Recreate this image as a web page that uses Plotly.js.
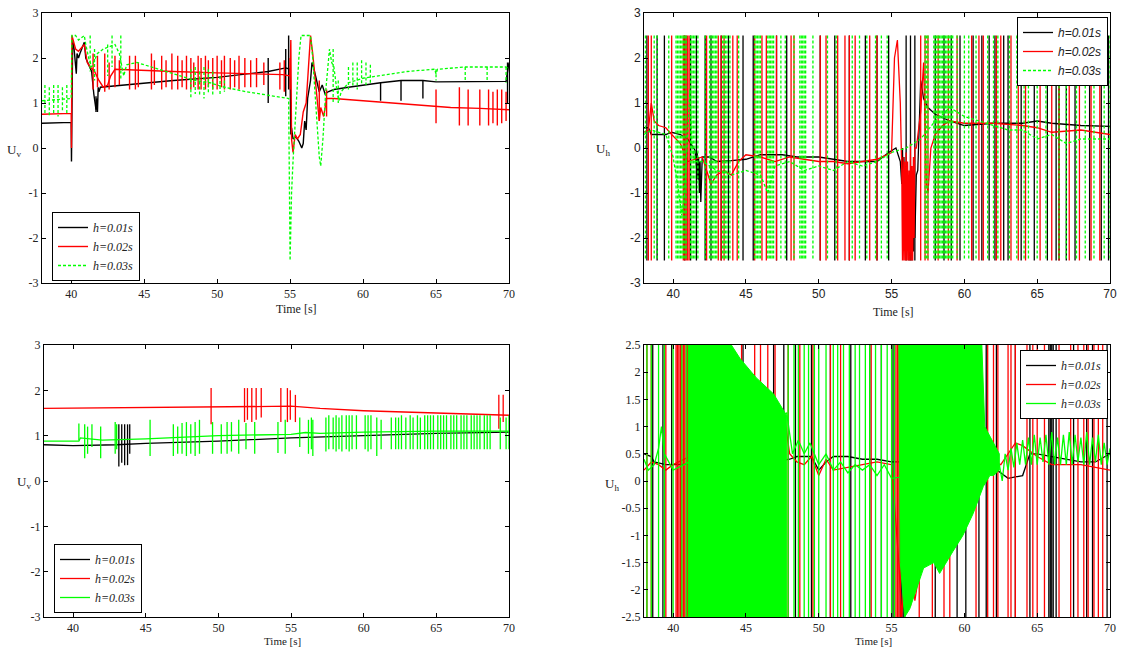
<!DOCTYPE html>
<html><head><meta charset="utf-8">
<script src="https://cdn.plot.ly/plotly-3.0.1.min.js"></script>
<style>html,body{margin:0;padding:0;background:#fff}#c{width:1126px;height:648px}</style>
</head><body><div id="c"></div>
<script>
// ---------------- DATA ----------------
const seriesNames = ['h=0.01s', 'h=0.02s', 'h=0.03s'];
const xTicks = [40, 45, 50, 55, 60, 65, 70];
const yTicksA = [-3, -2, -1, 0, 1, 2, 3];
const yTicksB = [-2.5, -2, -1.5, -1, -0.5, 0, 0.5, 1, 1.5, 2, 2.5];
const SAT = 2.5; // saturation level of the U_h signals

// Panel 1 (top-left) U_v : baseline points [t, value] and spikes [t, high, low]
const p1BlackBase = [[38,0.55],[39.9,0.57],[40.0,0.57],[40.02,-0.3],[40.05,1.5],[40.1,2.4],[40.2,2.2],[40.35,1.65],[40.4,2.1],[40.5,2.0],[40.6,2.1],[40.9,2.35],[41.0,2.0],[41.2,1.85],[41.4,1.7],[41.55,1.2],[41.65,1.0],[41.7,0.85],[41.75,1.1],[41.8,0.8],[41.85,1.35],[41.9,1.25],[42.0,1.35],[43,1.38],[45,1.45],[47,1.5],[50,1.57],[52,1.65],[53.5,1.7],[54.7,1.78],[55.0,1.75],[55.05,0.3],[55.1,0.45],[55.2,0.2],[55.4,0.25],[55.6,0.15],[55.8,0.0],[55.9,0.1],[56.0,0.6],[56.1,0.4],[56.2,1.1],[56.4,1.5],[56.5,1.9],[56.6,1.8],[56.8,1.5],[57.0,1.25],[57.2,1.4],[57.4,1.2],[57.6,1.25],[58,1.3],[59,1.35],[60,1.4],[61.2,1.45],[62.6,1.5],[64.1,1.5],[65,1.47],[67,1.48],[69.8,1.48],[70,1.9]];
const p1BlackSpikes = [[41.7,1.15,0.8],[53.5,2.0,1.0],[54.7,2.2,1.15],[54.9,2.5,1.3],[61.2,1.45,1.05],[62.6,1.5,1.05],[64.1,1.5,1.1],[69.9,1.9,1.0]];
const p1RedBase = [[38,0.75],[39.95,0.77],[40.0,0.77],[40.02,0.0],[40.05,2.5],[40.3,2.2],[40.5,2.15],[40.9,2.3],[41.1,1.9],[41.3,1.8],[41.6,1.7],[41.9,1.5],[42.2,1.35],[42.5,1.4],[42.7,1.6],[43,1.75],[45,1.72],[47,1.7],[50,1.67],[53,1.65],[54.5,1.63],[55.0,1.6],[55.05,2.4],[55.1,0.2],[55.2,-0.1],[55.35,0.3],[55.5,0.2],[55.7,0.3],[55.9,0.8],[56.1,1.0],[56.3,2.0],[56.4,2.5],[56.55,2.1],[56.7,1.6],[56.9,0.9],[57.0,0.6],[57.1,0.9],[57.3,0.7],[57.5,1.1],[58.0,1.1],[60,1.05],[62,1.0],[64,0.95],[66,0.9],[68,0.88],[70,0.85]];
const p1RedSpikes = [[41.5,2.1,1.3],[41.8,2.05,1.35],[42.3,2.1,1.25],[42.6,1.9,1.3],[43.0,2.05,1.35],[43.3,1.95,1.4],[44.0,2.05,1.3],[44.4,2.05,1.3],[44.6,1.9,1.35],[45.5,2.1,1.3],[45.7,1.95,1.4],[46.2,2.05,1.3],[46.5,1.95,1.35],[46.9,2.1,1.3],[47.3,2.05,1.3],[47.6,1.95,1.35],[47.9,2.05,1.3],[48.2,2.0,1.3],[48.4,1.9,1.35],[48.7,2.05,1.3],[48.9,2.0,1.3],[49.2,2.05,1.3],[49.4,1.95,1.35],[49.7,2.0,1.3],[50.0,2.05,1.3],[50.3,1.95,1.35],[50.5,2.05,1.3],[50.9,2.0,1.3],[51.2,1.95,1.35],[51.5,2.05,1.3],[51.9,2.0,1.35],[52.3,1.95,1.35],[52.7,2.0,1.35],[53.2,1.9,1.4],[54.3,1.9,1.3],[54.6,1.95,1.25],[55.0,2.0,1.3],[57.0,1.5,0.6],[57.5,1.3,0.7],[65.0,1.3,0.55],[66.6,1.35,0.5],[67.2,1.3,0.5],[68.0,1.3,0.5],[68.6,1.3,0.5],[68.9,1.25,0.55],[69.2,1.3,0.5],[69.5,1.3,0.55],[69.8,1.25,0.6]];
const p1GreenBase = [[38,1.05],[39.9,1.1],[40.0,1.1],[40.05,2.5],[40.3,2.5],[40.5,2.4],[40.7,2.45],[40.9,2.5],[41.0,2.3],[41.2,2.0],[41.4,1.8],[41.6,1.95],[41.8,2.1],[42.2,2.2],[42.6,2.25],[43,2.3],[43.3,2.1],[43.6,1.6],[43.8,1.85],[44.5,1.9],[45.5,1.8],[46.5,1.7],[47.5,1.6],[48.5,1.5],[49.5,1.45],[50.5,1.35],[52,1.25],[53.5,1.18],[54.9,1.1],[55.0,-2.5],[55.1,-1.0],[55.2,-0.3],[55.3,0.3],[55.45,1.0],[55.6,2.0],[55.75,2.5],[56.4,2.5],[56.55,2.0],[56.7,1.3],[56.85,0.6],[57.0,-0.2],[57.1,-0.4],[57.25,0.2],[57.45,1.3],[57.6,1.8],[57.7,2.2],[57.85,1.9],[58.0,1.8],[58.2,1.3],[58.35,1.05],[58.5,1.25],[59,1.45],[60,1.55],[61,1.6],[63,1.7],[64.9,1.75],[65,1.65],[65.1,1.75],[67,1.8],[68.5,1.8],[69.8,1.8],[70,1.75]];
const p1GreenSpikes = [[38.2,1.4,0.75],[38.5,1.35,0.7],[38.8,1.4,0.75],[39.1,1.4,0.7],[39.4,1.35,0.8],[39.7,1.4,0.75],[41.3,2.5,1.7],[41.6,2.2,1.5],[42.5,2.3,1.6],[42.8,2.5,1.8],[43.4,2.5,1.5],[48.2,1.75,1.1],[48.5,1.8,1.2],[48.8,1.7,1.15],[49.1,1.8,1.1],[49.4,1.75,1.2],[49.7,1.7,1.15],[50.2,1.6,1.2],[50.5,1.5,1.25],[57.95,2.2,1.0],[58.3,1.5,1.0],[59.0,1.8,1.3],[59.3,1.9,1.35],[59.6,1.9,1.3],[59.9,1.95,1.4],[60.2,1.9,1.4],[60.5,1.85,1.45],[65.0,1.75,1.5],[67.0,1.8,1.5],[68.5,1.8,1.5],[69.8,1.8,1.45]];

// Panel 2 (top-right) U_h : baseline points and times of full-range switching lines
const p2BlackBase = [[38,0.45],[38.3,0.45],[38.5,0.3],[39.5,0.3],[39.9,0.35],[40.5,0.3],[41.0,0.2],[41.5,-0.05],[41.6,-0.4],[41.65,-0.1],[41.7,-0.7],[41.75,-0.2],[41.8,-1.0],[41.85,-0.3],[41.9,-1.2],[41.95,-0.5],[42.0,-0.2],[42.5,-0.2],[43,-0.3],[44,-0.28],[45,-0.25],[46,-0.15],[47.5,-0.15],[48.5,-0.2],[50,-0.2],[51,-0.25],[52,-0.3],[54,-0.3],[54.8,-0.1],[55.3,0.0],[55.6,-0.3],[55.7,-0.8],[55.75,0.0],[55.8,-1.2],[55.85,-0.2],[55.9,-1.6],[55.95,-0.4],[56.0,-1.9],[56.05,-0.6],[56.1,-2.2],[56.15,-0.7],[56.2,-2.5],[56.25,-0.8],[56.3,-2.4],[56.35,-0.9],[56.4,-2.5],[56.45,-1.0],[56.5,-2.3],[56.55,-0.9],[56.6,-2.0],[56.7,-0.6],[56.8,-0.5],[57.0,1.5],[57.2,1.1],[57.5,0.9],[58,0.75],[59,0.6],[60,0.5],[62,0.55],[64,0.55],[65,0.6],[66,0.55],[68,0.5],[70,0.48]];
const p2BlackLines = [38.2,38.9,39.4,40.8,41.2,41.6,42.2,42.6,43.3,43.8,44.8,45.5,47.1,47.8,50.1,51.1,52.1,53.2,54.0,54.8,56.0,56.3,56.6,58.0,58.6,59.1,59.7,60.6,61.2,61.7,62.1,62.7,63.0,63.9,64.8,65.7,66.3,66.5,67.0,67.6,68.6,69.4,69.9];
const p2RedBase = [[38,0.35],[38.3,0.4],[38.5,1.0],[38.7,0.6],[39,0.5],[39.5,0.45],[39.9,0.3],[40.5,0.1],[41,-0.3],[42,-0.2],[42.3,-0.5],[42.6,-0.8],[43,-0.6],[43.5,-0.5],[44,-0.6],[44.5,-0.3],[45,-0.15],[46,-0.2],[47,-0.3],[48,-0.2],[49,-0.25],[50,-0.3],[51,-0.3],[52,-0.35],[53,-0.3],[54,-0.25],[55,-0.1],[55.2,2.0],[55.4,2.4],[55.6,1.0],[55.7,-0.5],[55.75,-2.5],[55.8,-0.2],[55.85,-2.5],[55.9,-0.3],[55.95,-2.5],[56.0,-0.1],[56.05,-2.5],[56.1,-0.3],[56.15,-2.5],[56.2,-0.5],[56.25,-2.5],[56.3,0.1],[56.35,-2.5],[56.4,-0.4],[56.45,-2.5],[56.5,-0.2],[56.55,-2.0],[56.6,0.0],[56.7,0.0],[57,0.8],[57.2,1.9],[57.4,-0.8],[57.5,-1.0],[57.7,0.0],[58,0.3],[58.5,0.5],[59,0.6],[60,0.55],[62,0.55],[64,0.5],[65,0.45],[66,0.35],[68,0.4],[70,0.3]];
const p2RedLines = [38.3,38.5,39.9,40.7,40.8,40.9,41.0,41.1,42.3,43.1,43.3,43.5,44.1,44.4,45.6,46.1,46.4,47.1,48.1,48.3,50.1,50.5,51.3,51.8,52.1,52.5,53.5,54.0,57.0,57.3,57.5,58.2,58.9,59.5,60.5,61.0,61.3,62.2,62.5,63.2,63.7,64.2,65.2,66.0,66.5,67.2,67.9,68.7,69.3];
const p2GreenBase = [[38,0.3],[38.5,0.4],[39.5,0.3],[40,-0.2],[40.3,-0.8],[40.6,-1.5],[40.8,-1.0],[41.0,0.5],[41.15,1.3],[41.3,0.0],[41.5,-0.3],[42,-0.3],[43,-0.5],[44,-0.6],[45,-0.5],[46,-0.6],[46.5,-1.0],[47,-0.4],[48,-0.3],[49,-0.5],[50,-0.4],[51,-0.5],[52,-0.3],[53,-0.4],[54,-0.3],[55,-0.1],[56,0.0],[57,0.2],[58,0.6],[59,0.9],[60,0.7],[61,0.6],[62,0.5],[63,0.4],[64,0.4],[65,0.2],[66,0.3],[67,0.1],[68,0.2],[69,0.2],[70,0.2]];
const p2GreenLines = [38.1,38.7,38.9,39.7,40.2,40.3,40.4,40.5,40.6,40.7,40.8,40.9,41.2,41.3,41.4,41.5,41.7,42.2,42.5,42.6,42.7,42.8,42.9,43.0,43.4,43.5,43.6,43.7,43.9,44.5,45.6,45.7,45.8,45.9,46.0,46.5,46.6,46.7,46.8,46.9,47.4,47.7,48.3,48.7,48.8,48.9,49.0,49.1,49.6,50.6,51.2,52.3,52.8,53.3,53.9,54.3,54.7,57.3,57.4,57.5,57.9,58.0,58.1,58.2,58.3,58.4,58.5,58.6,58.7,58.8,58.9,59.0,59.1,59.2,59.5,60.0,60.3,60.8,61.6,62.0,62.3,63.1,63.6,64.1,64.4,65.0,65.6,66.5,67.0,67.7,68.3,68.9,69.6,70.0];

// Panel 3 (bottom-left) U_v
const p3BlackBase = [[38,0.8],[40,0.78],[43,0.8],[45,0.83],[50,0.88],[55,0.95],[60,1.0],[65,1.05],[70,1.08]];
const p3BlackSpikes = [[43.15,1.25,0.32],[43.35,1.25,0.4],[43.55,1.25,0.35],[43.75,1.25,0.35],[43.9,1.25,0.6]];
const p3RedBase = [[38,1.6],[45,1.62],[50,1.65],[55,1.65],[57,1.6],[60,1.55],[65,1.5],[70,1.45]];
const p3RedSpikes = [[49.5,2.05,1.25],[51.8,2.05,1.3],[52.0,2.05,1.35],[52.3,2.05,1.3],[52.6,2.05,1.35],[52.95,2.05,1.4],[54.3,2.05,1.3],[54.75,2.05,1.3],[54.95,2.0,1.35],[55.3,1.9,1.3],[69.3,1.9,1.15],[69.6,1.9,1.3]];
const p3GreenBase = [[38,0.88],[40.4,0.88],[40.5,0.95],[42,0.9],[45,0.93],[50,1.0],[55,1.03],[56,1.07],[57,1.05],[60,1.08],[65,1.1],[70,1.1]];
const p3GreenSpikes = [[40.4,1.27,0.9],[40.8,1.25,0.5],[41.0,1.2,0.6],[41.3,1.25,0.75],[41.9,1.2,0.5],[42.9,1.3,0.6],[43.0,1.25,0.7],[45.3,1.35,0.55],[46.9,1.25,0.55],[47.2,1.2,0.6],[47.5,1.28,0.6],[47.8,1.3,0.55],[48.1,1.25,0.6],[48.4,1.3,0.55],[48.7,1.35,0.6],[49.6,1.3,0.6],[50.2,1.25,0.6],[50.6,1.3,0.6],[50.9,1.3,0.65],[51.4,1.35,0.6],[51.9,1.28,0.7],[52.5,1.3,0.6],[54.1,1.3,0.62],[54.6,1.35,0.6],[55.6,1.4,0.75],[56.2,1.35,0.6],[56.4,1.4,0.7],[56.5,1.35,0.55],[57.4,1.4,0.65],[57.6,1.45,0.7],[57.9,1.4,0.7],[58.1,1.45,0.65],[58.3,1.4,0.7],[58.5,1.45,0.65],[58.8,1.45,0.7],[59.0,1.45,0.65],[59.2,1.45,0.7],[59.5,1.45,0.7],[60.1,1.45,0.7],[60.3,1.45,0.65],[60.5,1.45,0.7],[60.9,1.4,0.55],[61.2,1.35,0.7],[61.9,1.4,0.7],[62.2,1.4,0.7],[62.4,1.4,0.7],[62.6,1.45,0.7],[62.9,1.4,0.7],[63.2,1.45,0.7],[63.4,1.4,0.7],[63.7,1.45,0.7],[63.9,1.4,0.7],[64.2,1.45,0.7],[64.4,1.45,0.7],[64.6,1.45,0.7],[64.8,1.45,0.7],[65.1,1.45,0.7],[65.3,1.45,0.7],[65.5,1.45,0.7],[65.7,1.45,0.7],[66.0,1.45,0.7],[66.2,1.45,0.7],[66.4,1.45,0.7],[66.7,1.45,0.7],[66.9,1.45,0.7],[67.1,1.45,0.7],[67.4,1.45,0.7],[67.6,1.45,0.7],[67.8,1.45,0.7],[68.0,1.45,0.7],[68.3,1.45,0.7],[68.5,1.45,0.7],[68.7,1.45,0.7],[69.4,1.4,0.7],[69.8,1.4,0.7],[70.0,1.45,0.7]];

// Panel 4 (bottom-right) U_h
const p4BlackBase = [[38,0.5],[38.5,0.45],[38.7,0.35],[39.5,0.3],[40,0.3],[47,0.35],[48,0.4],[48.5,0.45],[49.5,0.45],[50,0.2],[50.5,0.35],[51,0.45],[52,0.45],[53,0.4],[54,0.4],[55,0.35],[58,0.35],[60,0.35],[61,0.3],[62,0.25],[63,0.05],[64,0.1],[64.5,0.5],[65,0.5],[66,0.45],[67,0.4],[68,0.35],[69,0.35],[70,0.5]];
const p4BlackLines = [38.6,39.3,39.9,40.3,42.8,44.8,46.9,47.6,48.4,49.5,50.8,52.2,53.5,54.3,55.1,55.6,55.7,55.8,55.9,58.0,59.5,60.1,61.0,61.5,62.2,63.5,64.5,65.8,65.9,66.0,66.1,66.3,67.5,68.4,68.8,69.8];
const p4RedBase = [[38,0.2],[38.5,0.35],[39,0.3],[39.5,0.2],[40,0.3],[41.5,0.5],[47.2,1.25],[47.6,1.25],[48,0.5],[48.5,0.35],[49,0.3],[49.5,0.45],[50,0.1],[50.5,0.4],[51,0.2],[52,0.25],[53,0.3],[54,0.35],[55,0.3],[55.5,-1.5],[55.7,-2.5],[55.85,-1.9],[56.0,-2.4],[56.15,-1.8],[56.3,-2.3],[56.45,-1.6],[56.6,-2.2],[57,-1.5],[57.5,0.3],[60,0.35],[61,0.3],[61.5,0.4],[62.5,0.3],[63.5,0.7],[64,0.65],[65,0.45],[66,0.3],[67,0.3],[68,0.3],[70,0.2]];
const p4RedLines = [38.2,38.5,39.5,40.2,40.3,40.4,40.5,40.6,40.7,40.8,40.9,41.0,41.1,41.6,44.7,45.6,46.0,46.5,47.0,47.9,48.7,49.6,50.8,51.5,53.6,55.3,55.4,55.5,55.6,56.9,57.8,58.6,59.0,60.8,61.6,62.0,62.3,63.0,63.2,63.5,64.3,64.7,65.0,65.5,66.5,67.3,67.8,68.2,68.5,68.9,69.2,69.5];
const p4GreenBase = [[38,0.4],[38.3,0.2],[38.7,0.3],[39.0,0.6],[39.2,1.0],[39.4,0.5],[39.8,0.3],[40.0,0.2],[47.8,1.25],[48.2,0.5],[48.6,0.75],[49,0.5],[49.4,0.7],[50,0.3],[50.5,0.5],[51,0.2],[51.5,0.35],[52,0.15],[52.5,0.3],[53,0.2],[53.5,0.3],[54,0.1],[54.5,0.3],[55,0.05],[62.4,0.3],[62.6,0.0],[62.8,0.5],[63.0,0.2],[63.2,0.6],[63.4,0.25],[63.6,0.7],[63.8,0.3],[64.0,0.75],[64.2,0.3],[64.4,0.8],[64.6,0.3],[64.8,0.85],[65.0,0.3],[65.2,0.8],[65.4,0.35],[65.6,0.85],[65.8,0.3],[66.0,0.9],[66.2,0.3],[66.4,0.8],[66.6,0.3],[66.8,0.85],[67.0,0.3],[67.2,0.9],[67.4,0.3],[67.6,0.85],[67.8,0.35],[68.0,0.8],[68.2,0.3],[68.4,0.9],[68.6,0.3],[68.8,0.8],[69.0,0.35],[69.2,0.85],[69.4,0.3],[69.6,0.7],[69.8,0.3],[70,0.6]];
const p4GreenLines = [38.2,38.5,39.0,39.4,40.0,40.6,40.9,47.9,48.3,48.6,49.0,49.3,49.7,50.0,50.5,51.0,51.3,51.7,52.1,52.5,52.8,53.2,53.5,53.9,54.3,54.7,55.0,55.2];
// envelopes of the dense h=0.03s oscillation bands [t, value]
const p4Band1Top = [[41.0,2.5],[44.0,2.5],[44.6,2.25],[45.7,1.9],[46.9,1.6],[47.6,1.3],[47.8,1.2]];
const p4Band1Bottom = [[47.8,-2.5],[41.0,-2.5]];
const p4Band2Top = [[55.5,2.5],[61.2,2.5],[61.4,1.0],[62.0,0.7],[62.4,0.5]];
const p4Band2Bottom = [[62.4,0.2],[62.0,0.1],[61.75,0.1],[61.3,-0.1],[60.6,-0.6],[59.9,-1.0],[59.2,-1.3],[58.3,-1.7],[57.9,-1.5],[57.2,-1.6],[56.25,-2.35],[55.9,-2.5],[55.6,-1.5],[55.5,2.5]];

// ---------------- BUILD ----------------
function withSpikes(base, spikes) {
  const x = base.map(p => p[0]), y = base.map(p => p[1]);
  spikes.forEach(s => { x.push(null, s[0], s[0]); y.push(null, s[1], s[2]); });
  return {x, y};
}
function withLines(base, times, lim) {
  return withSpikes(base, times.map(t => [t, lim, -lim]));
}
function band(top, bottom) {
  const pts = top.concat(bottom);
  return {x: pts.map(p => p[0]), y: pts.map(p => p[1])};
}
const COL = ['#000000', '#ff0000', '#00ff00'];
const traces = [];
function add(d, i, ax, leg, width, dash) {
  traces.push({type: 'scatter', mode: 'lines', x: d.x, y: d.y, name: seriesNames[i],
    xaxis: 'x' + ax, yaxis: 'y' + ax, legend: leg, connectgaps: false,
    line: {color: COL[i], width: width, dash: dash || 'solid'}, hoverinfo: 'skip'});
}
add(withSpikes(p1BlackBase, p1BlackSpikes), 0, '', 'legend', 1.4);
add(withSpikes(p1RedBase, p1RedSpikes), 1, '', 'legend', 1.4);
add(withSpikes(p1GreenBase, p1GreenSpikes), 2, '', 'legend', 1.3, '3px,2px');

add(withLines(p2BlackBase, p2BlackLines, SAT), 0, '2', 'legend2', 1.3);
add(withLines(p2RedBase, p2RedLines, SAT), 1, '2', 'legend2', 1.3);
add(withLines(p2GreenBase, p2GreenLines, SAT), 2, '2', 'legend2', 1.3, '3px,2px');

add(withSpikes(p3BlackBase, p3BlackSpikes), 0, '3', 'legend3', 1.3);
add(withSpikes(p3RedBase, p3RedSpikes), 1, '3', 'legend3', 1.3);
add(withSpikes(p3GreenBase, p3GreenSpikes), 2, '3', 'legend3', 1.3);

add(withLines(p4BlackBase, p4BlackLines, SAT), 0, '4', 'legend4', 1.3);
add(withLines(p4RedBase, p4RedLines, SAT), 1, '4', 'legend4', 1.3);
[band(p4Band1Top, p4Band1Bottom), band(p4Band2Top, p4Band2Bottom)].forEach(b => {
  traces.push({type: 'scatter', mode: 'lines', x: b.x, y: b.y, xaxis: 'x4', yaxis: 'y4',
    fill: 'toself', fillcolor: '#00ff00', line: {color: '#00ff00', width: 1},
    showlegend: false, hoverinfo: 'skip'});
});
add(withLines(p4GreenBase, p4GreenLines, SAT), 2, '4', 'legend4', 1.3);

// ---------------- LAYOUT ----------------
const W = 1126, H = 648;
const fx = v => v / W, fy = v => 1 - v / H;
const serif = 'Liberation Serif, Times New Roman, serif';
const sans = 'Liberation Sans, Arial, sans-serif';
const fmt = v => String(v).replace('\u2212', '-');
function xa(d0, d1, anchor, fam, sz) {
  return {domain: [fx(d0), fx(d1)], anchor: anchor, range: [38, 70], tickvals: xTicks, ticktext: xTicks.map(fmt),
    showgrid: false, zeroline: false, showline: true, linecolor: '#000', linewidth: 1, mirror: 'ticks',
    ticks: 'inside', ticklen: 4, tickcolor: '#000', tickfont: {family: fam, size: sz, color: '#222'}, fixedrange: true};
}
function ya(d0, d1, anchor, ticks, fam, sz) {
  return {domain: [fy(d1), fy(d0)], anchor: anchor, range: [ticks[0], ticks[ticks.length - 1]], tickvals: ticks,
    ticktext: ticks.map(fmt), showgrid: false, zeroline: false, showline: true, linecolor: '#000', linewidth: 1,
    mirror: 'ticks', ticks: 'inside', ticklen: 4, tickcolor: '#000', tickfont: {family: fam, size: sz, color: '#222'}, fixedrange: true};
}
function leg(x, y, xanchor, yanchor, fam) {
  return {x: x, y: y, xanchor: xanchor, yanchor: yanchor, bgcolor: '#fff', bordercolor: '#000', borderwidth: 1,
    font: {family: fam, size: 12, color: '#222', style: 'italic'}, tracegroupgap: 0, itemwidth: 30};
}
function ann(x, y, text, fam, sz) {
  return {x: fx(x), y: fy(y), xref: 'paper', yref: 'paper', text: text, showarrow: false,
    font: {family: fam, size: sz, color: '#222'}, xanchor: 'center', yanchor: 'middle'};
}
const layout = {
  width: W, height: H, margin: {l: 0, r: 0, t: 0, b: 0}, paper_bgcolor: '#fff', plot_bgcolor: '#fff', showlegend: true,
  xaxis: xa(42, 509, 'y', serif, 12), yaxis: ya(13, 283, 'x', yTicksA, serif, 12),
  xaxis2: xa(644, 1110, 'y2', sans, 12), yaxis2: ya(13, 283, 'x2', yTicksA, sans, 12),
  xaxis3: xa(44, 509, 'y3', serif, 12), yaxis3: ya(345, 617, 'x3', yTicksA, serif, 12),
  xaxis4: xa(644, 1110, 'y4', serif, 12), yaxis4: ya(345, 617, 'x4', yTicksB, serif, 12),
  legend: leg(fx(52), fy(281), 'left', 'bottom', serif),
  legend2: leg(fx(1108), fy(17), 'right', 'top', sans),
  legend3: leg(fx(54), fy(613), 'left', 'bottom', serif),
  legend4: leg(fx(1108), fy(350), 'right', 'top', serif),
  annotations: [
    ann(14, 150, 'U<sub>v</sub>', serif, 13), ann(603, 149, 'U<sub>h</sub>', serif, 13),
    ann(24, 482, 'U<sub>v</sub>', serif, 13), ann(612, 484, 'U<sub>h</sub>', serif, 13),
    ann(296, 309, 'Time [s]', serif, 12), ann(893, 312, 'Time [s]', serif, 12),
    ann(283, 641, 'Time [s]', serif, 11), ann(873, 641, 'Time [s]', serif, 11)
  ]
};
Plotly.newPlot('c', traces, layout, {staticPlot: true, displayModeBar: false});
</script></body></html>
